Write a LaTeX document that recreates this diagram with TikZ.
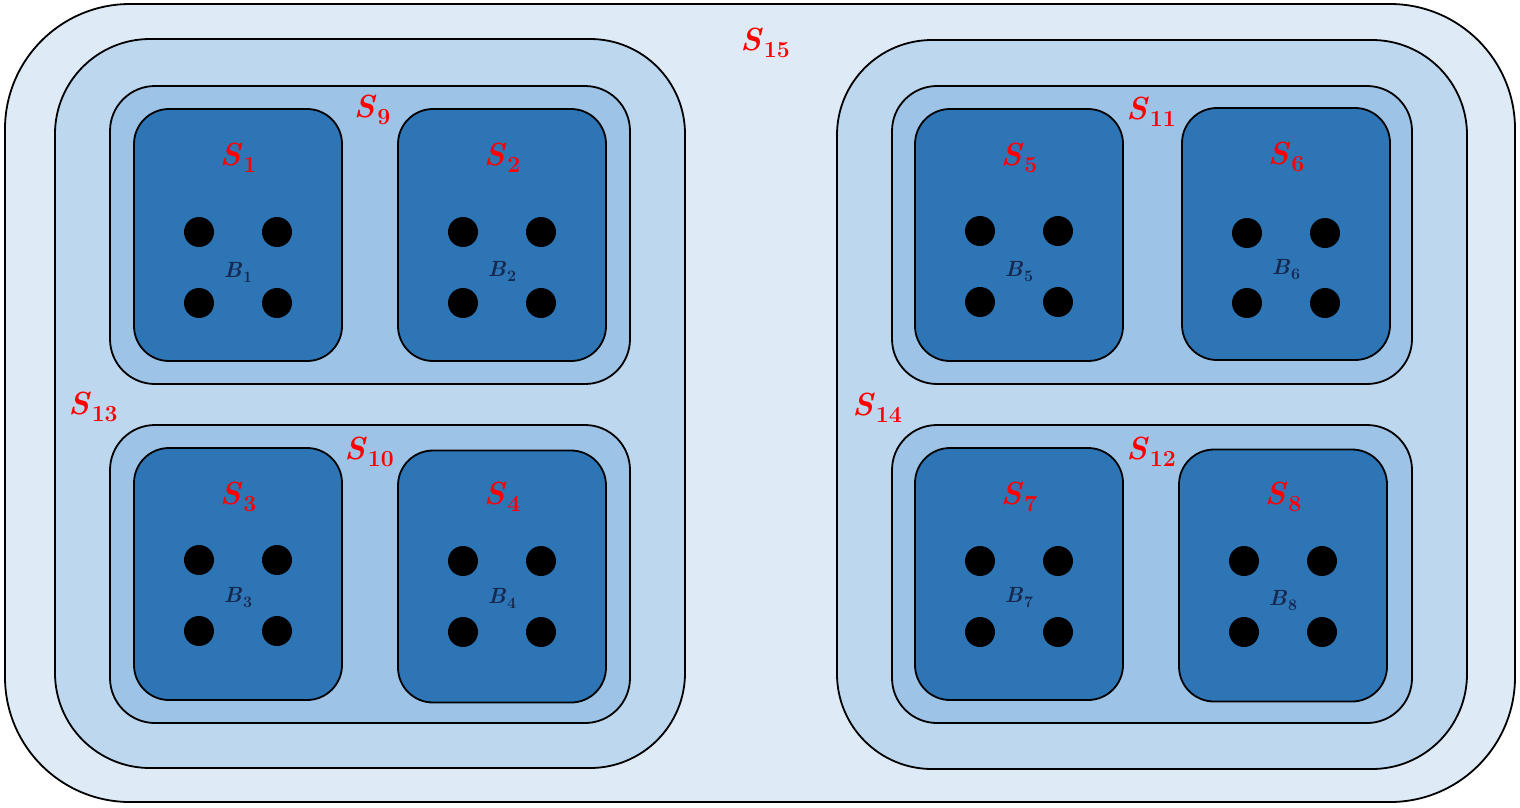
\documentclass[tikz,border=0pt]{standalone}
\definecolor{cA}{RGB}{222,234,246}
\definecolor{cB}{RGB}{189,215,238}
\definecolor{cC}{RGB}{157,195,230}
\definecolor{cD}{RGB}{46,117,182}
\definecolor{lblred}{RGB}{255,0,0}
\definecolor{bnavy}{RGB}{22,40,78}
\newcommand\slab[1]{\textit{S}\kern1pt\raisebox{-7pt}{\fontsize{23}{25}\selectfont\bfseries #1}}
\newcommand\blab[1]{\textit{B}\kern1pt\raisebox{-5pt}{\fontsize{16}{18}\selectfont #1}}
\begin{document}
\begin{tikzpicture}[x=1pt,y=-1pt,
  lvl/.style={draw=black, line width=1.8pt, inner sep=0pt},
  topbox/.style={lvl, fill=cA, rounded corners=125pt, minimum width=1510pt, minimum height=798pt},
  halfbox/.style={lvl, fill=cB, rounded corners=95pt, minimum width=630pt, minimum height=729pt},
  pairbox/.style={lvl, fill=cC, rounded corners=45pt, minimum width=520pt, minimum height=298pt},
  leafbox/.style={lvl, fill=cD, rounded corners=35pt, minimum width=208pt, minimum height=252pt},
  slabel/.style={text=lblred, inner sep=0pt, font=\fontsize{32}{36}\selectfont\bfseries},
  blabel/.style={text=bnavy, inner sep=0pt, font=\fontsize{22}{26}\selectfont\bfseries},
  dotnode/.style={circle, fill=black, draw=none, minimum size=30pt, inner sep=0pt}]
\path[use as bounding box] (0,0) rectangle (1520,807);

\node[topbox] (s15) at (760,403) {};
\node[halfbox] (s13) at (370,403.5) {};
\node[halfbox] (s14) at (1152,404.5) {};
\node[pairbox] (s9) at (370,235) {};
\node[pairbox] (s10) at (370,574) {};
\node[pairbox] (s11) at (1152,235) {};
\node[pairbox] (s12) at (1152,574) {};

\node[slabel] (l15) at (765,43) {\slab{15}};
\node[slabel] (l13) at (93,407) {\slab{13}};
\node[slabel] (l14) at (877,408) {\slab{14}};
\node[slabel] (l9) at (372,110) {\slab{9}};
\node[slabel] (l10) at (369,452) {\slab{10}};
\node[slabel] (l11) at (1151,112) {\slab{11}};
\node[slabel] (l12) at (1151,452) {\slab{12}};

% leaf boxes: name, cx, cy, dot row 1 y, dot row 2 y, B label y, S label y
\foreach \n/\cx/\cy/\da/\db/\by/\sy in {
  1/238/235/232/303/272/158,
  2/502/235/232/303/271/158,
  3/238/574/560/631/598/497,
  4/502/576.5/561/632/598/497,
  5/1019/235/231/302/272/158,
  6/1286/234/233/303/270/157,
  7/1019/574/561/632/598/497,
  8/1283/575.5/561/632/601/497} {
  \node[leafbox] (leaf\n) at (\cx,\cy) {};
  \node[slabel] (ls\n) at (\cx,\sy) {\slab{\n}};
  \node[blabel] (lb\n) at (\cx,\by) {\blab{\n}};
  \node[dotnode] (d\n a) at (\cx-39,\da) {};
  \node[dotnode] (d\n b) at (\cx+39,\da) {};
  \node[dotnode] (d\n c) at (\cx-39,\db) {};
  \node[dotnode] (d\n d) at (\cx+39,\db) {};
}
\end{tikzpicture}
\end{document}
